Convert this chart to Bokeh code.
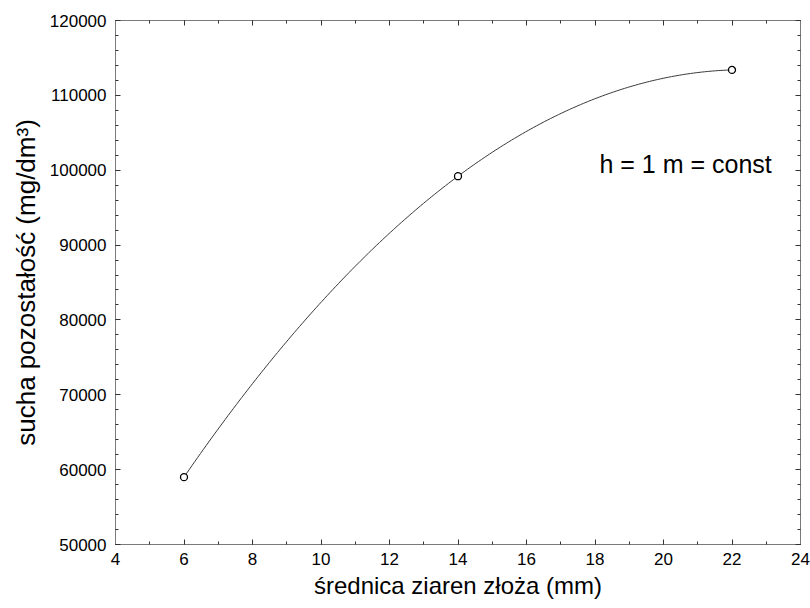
import numpy as np
from bokeh.plotting import figure
from bokeh.models import (Range1d, LinearAxis, SingleIntervalTicker, BasicTickFormatter,
                          CustomJSTickFormatter, Label, ColumnDataSource)
from bokeh.embed import file_html
from bokeh.resources import INLINE

# data
grain_diameter_mm = [6, 14, 22]
dry_residue = [59000, 99200, 113400]
x_ticks_interval = 2
y_ticks_interval = 10000
annotation_text = "h = 1 m = const"
x_title = "średnica ziaren złoża (mm)"
y_title = "sucha pozostałość (mg/dm³)"

# quadratic fit curve through the measured points
coef = np.polyfit(grain_diameter_mm, dry_residue, 2)
xs = np.linspace(min(grain_diameter_mm), max(grain_diameter_mm), 200)
ys = np.polyval(coef, xs)

FONT = "Liberation Sans"
GRAY = "#7a7a7a"

p = figure(width=810, height=608, output_backend="svg", toolbar_location=None,
           x_range=Range1d(4, 24), y_range=Range1d(50000, 120000),
           min_border_left=115, min_border_right=10, min_border_top=20, min_border_bottom=64)
p.background_fill_color = "white"
p.border_fill_color = "white"
p.outline_line_color = GRAY
p.xgrid.visible = False
p.ygrid.visible = False

xticker = SingleIntervalTicker(interval=x_ticks_interval, num_minor_ticks=2)
yticker = SingleIntervalTicker(interval=y_ticks_interval, num_minor_ticks=5)

def style_axis(ax, labels=True):
    ax.axis_line_color = GRAY
    ax.major_tick_line_color = "#333333"
    ax.minor_tick_line_color = "#333333"
    ax.major_tick_in = 5
    ax.major_tick_out = 0
    ax.minor_tick_in = 3
    ax.minor_tick_out = 0
    if labels:
        ax.major_label_text_font = FONT
        ax.major_label_text_font_size = "17px"
        ax.major_label_text_color = "black"
        ax.axis_label_text_font = FONT
        ax.axis_label_text_font_style = "normal"
        ax.axis_label_text_color = "black"
    else:
        ax.formatter = CustomJSTickFormatter(code="return ''")
        ax.major_label_standoff = 0

xa = p.xaxis[0]
xa.ticker = xticker
style_axis(xa)
xa.major_label_standoff = 8
xa.axis_label = x_title
xa.axis_label_text_font_size = "24px"
xa.axis_label_standoff = 4

ya = p.yaxis[0]
ya.ticker = yticker
ya.formatter = BasicTickFormatter(use_scientific=False)
style_axis(ya)
ya.major_label_standoff = 9
ya.axis_label = y_title
ya.axis_label_text_font_size = "26px"
ya.axis_label_standoff = 6

top = LinearAxis(ticker=SingleIntervalTicker(interval=x_ticks_interval, num_minor_ticks=2))
style_axis(top, labels=False)
p.add_layout(top, "above")
right = LinearAxis(ticker=SingleIntervalTicker(interval=y_ticks_interval, num_minor_ticks=5))
style_axis(right, labels=False)
p.add_layout(right, "right")

p.line(xs, ys, line_color="#3a3a3a", line_width=1)
src = ColumnDataSource(dict(x=grain_diameter_mm, y=dry_residue))
p.scatter("x", "y", source=src, size=7, fill_color="white", line_color="black", line_width=1.3)

p.add_layout(Label(x=18.13, y=100830, text=annotation_text, text_font=FONT,
                   text_font_size="25px", text_color="black", text_baseline="alphabetic"))

open("out.html", "w").write(file_html(p, INLINE))
